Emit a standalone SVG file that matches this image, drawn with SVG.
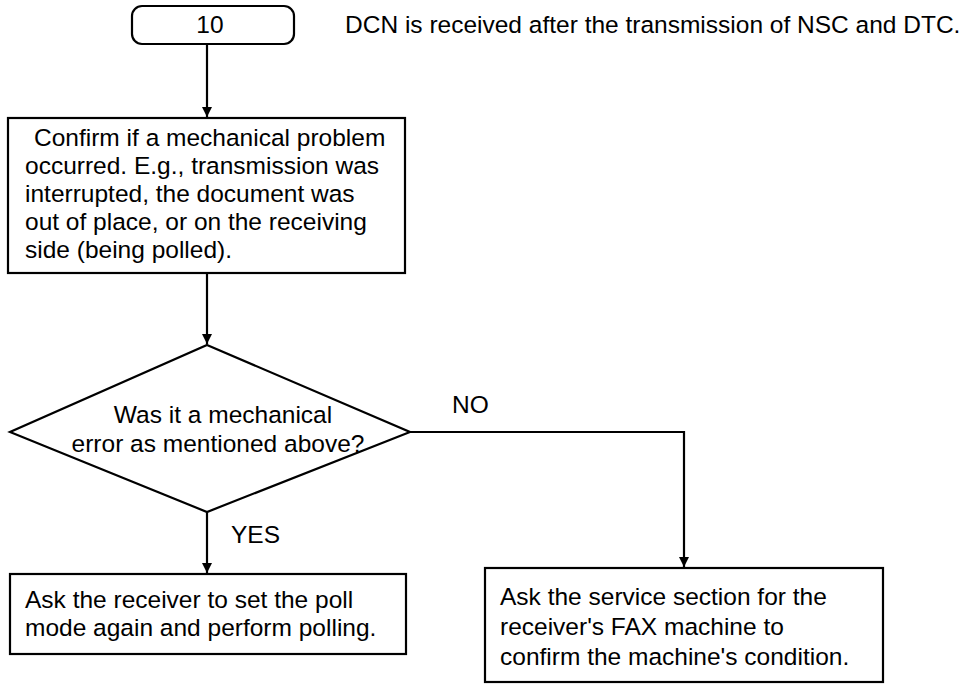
<svg xmlns="http://www.w3.org/2000/svg" width="970" height="684" viewBox="0 0 970 684">
<style>
  .shape { fill: #ffffff; stroke: #000000; stroke-width: 2.2; }
  .line { fill: none; stroke: #000000; stroke-width: 2.2; }
  text { font-family: "Liberation Sans", Arial, sans-serif; font-size: 24.5px; fill: #000000; }
</style>
<defs>
  <marker id="arrow" viewBox="0 0 10 12" refX="10" refY="6" markerWidth="10" markerHeight="12" markerUnits="userSpaceOnUse" orient="auto">
    <path d="M0,1 L10,6 L0,11 Z" fill="#000000"/>
  </marker>
</defs>
<rect width="970" height="684" fill="#ffffff"/>
<g id="connectors">
  <line class="line" x1="207" y1="44" x2="207" y2="117" marker-end="url(#arrow)"/>
  <line class="line" x1="207" y1="273" x2="207" y2="344" marker-end="url(#arrow)"/>
  <line class="line" x1="207" y1="512" x2="207" y2="573" marker-end="url(#arrow)"/>
  <polyline class="line" points="410,432 684,432 684,567" marker-end="url(#arrow)"/>
  <text x="231" y="543">YES</text>
  <text x="452" y="413">NO</text>
</g>
<g id="start">
  <rect class="shape" x="132" y="6" width="162" height="38" rx="10" ry="10"/>
  <text x="210" y="33" text-anchor="middle">10</text>
</g>
<g id="note">
  <text x="345" y="33">DCN is received after the transmission of NSC and DTC.</text>
</g>
<g id="confirm">
  <rect class="shape" x="8" y="118" width="397" height="155"/>
  <text x="34" y="146">Confirm if a mechanical problem</text>
  <text x="25" y="174">occurred. E.g., transmission was</text>
  <text x="25" y="202">interrupted, the document was</text>
  <text x="25" y="230">out of place, or on the receiving</text>
  <text x="25" y="258">side (being polled).</text>
</g>
<g id="decision">
  <polygon class="shape" points="207,345 410,432 207,512 10,432"/>
  <text x="223" y="423" text-anchor="middle">Was it a mechanical</text>
  <text x="218" y="452" text-anchor="middle">error as mentioned above?</text>
</g>
<g id="yes-action">
  <rect class="shape" x="10" y="574" width="396" height="80"/>
  <text x="25" y="608">Ask the receiver to set the poll</text>
  <text x="25" y="636">mode again and perform polling.</text>
</g>
<g id="no-action">
  <rect class="shape" x="485" y="568" width="398" height="114"/>
  <text x="500" y="605">Ask the service section for the</text>
  <text x="500" y="635">receiver's FAX machine to</text>
  <text x="500" y="665">confirm the machine's condition.</text>
</g>
</svg>
